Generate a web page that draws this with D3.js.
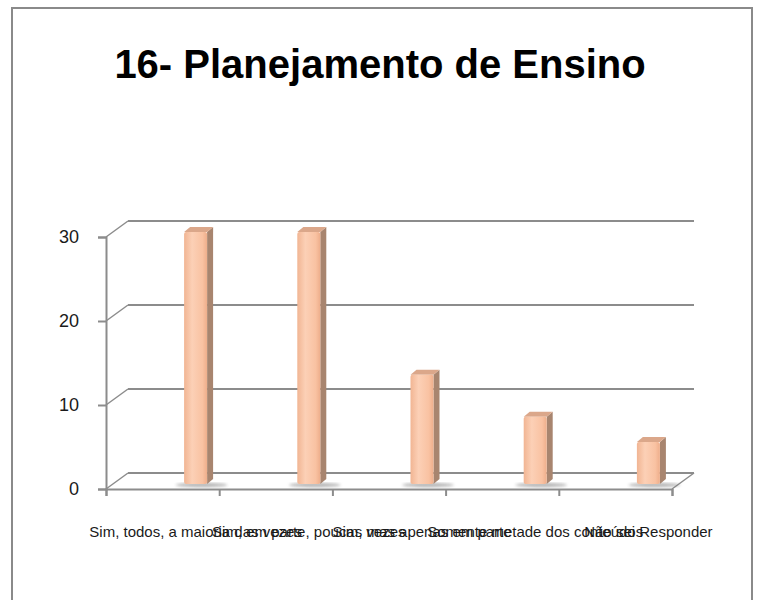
<!DOCTYPE html>
<html>
<head>
<meta charset="utf-8">
<script src="https://cdnjs.cloudflare.com/ajax/libs/d3/7.8.5/d3.min.js"></script>
<style>
  body { margin: 0; background: #fff; }
  svg { display: block; }
</style>
</head>
<body>
<div id="chart-area"></div>
<script>

// Data

let categories = [
  "Sim, todos, a maioria das vezes",
  "Sim, em parte, poucas vezes",
  "Sim, mas apenas em parte",
  "Somente metade dos conteúdos",
  "Não sei Responder"
];
let values = [30, 30, 13, 8, 5];
let yTicks = [0, 10, 20, 30];
let chartTitle = "16- Planejamento de Ensino";

// SVG drawing area

let width = 759, height = 600;

let svg = d3.select("#chart-area").append("svg")
    .attr("width", width)
    .attr("height", height);

// depth of the fake 3d box
let depthX = 22, depthY = -16;

// Scales

let y = d3.scaleLinear()
    .domain([0, 30])
    .range([489, 237]);

// category ticks on the front edge
let xi = d3.scaleLinear()
    .domain([0, categories.length])
    .range([106, 672]);

// bars sit further back, so they are shifted right
let x = d3.scaleBand()
    .domain(categories)
    .range([106 + 33, 672 + 33]);

let barW = 23, sideW = 6, capH = 5, barLift = 5;

// filters / gradients
let defs = svg.append("defs");

let grad = defs.append("linearGradient")
    .attr("id", "front")
    .attr("x1", "0%").attr("x2", "100%");
grad.append("stop").attr("offset", "0%").attr("stop-color", "#f1b593");
grad.append("stop").attr("offset", "35%").attr("stop-color", "#fcd0b6");
grad.append("stop").attr("offset", "80%").attr("stop-color", "#f9c2a2");
grad.append("stop").attr("offset", "100%").attr("stop-color", "#eeae8b");

defs.append("filter")
    .attr("id", "blur")
  .append("feGaussianBlur")
    .attr("stdDeviation", 1.6);

// Outer border

svg.append("rect")
    .attr("x", 12)
    .attr("y", 8)
    .attr("width", 740)
    .attr("height", 640)
    .attr("fill", "none")
    .attr("stroke", "#8a8a8a")
    .attr("stroke-width", 2);

// Title

svg.append("text")
    .attr("x", 380)
    .attr("y", 78)
    .attr("text-anchor", "middle")
    .style("font-family", "'Liberation Sans', Arial, sans-serif")
    .style("font-weight", "bold")
    .style("font-size", "40px")
    .attr("fill", "#000")
    .text(chartTitle);

// Back wall gridlines + side wall diagonals

let grid = svg.append("g").attr("class", "grid");

grid.selectAll(".gline")
    .data(yTicks)
  .enter().append("line")
    .attr("class", "gline")
    .attr("x1", xi(0) + depthX)
    .attr("x2", xi(categories.length) + depthX)
    .attr("y1", d => y(d) + depthY)
    .attr("y2", d => y(d) + depthY)
    .attr("stroke", "#8c8c8c")
    .attr("stroke-width", 2);

grid.selectAll(".diag")
    .data(yTicks)
  .enter().append("line")
    .attr("class", "diag")
    .attr("x1", xi(0))
    .attr("x2", xi(0) + depthX)
    .attr("y1", d => y(d))
    .attr("y2", d => y(d) + depthY)
    .attr("stroke", "#8c8c8c")
    .attr("stroke-width", 1.5);

// floor right edge
grid.append("line")
    .attr("x1", xi(categories.length))
    .attr("x2", xi(categories.length) + depthX)
    .attr("y1", y(0))
    .attr("y2", y(0) + depthY)
    .attr("stroke", "#8c8c8c")
    .attr("stroke-width", 1.5);

// Bars

let bars = svg.selectAll(".bar")
    .data(values.map((v, i) => ({cat: categories[i], value: v})))
  .enter().append("g")
    .attr("class", "bar");

function bx(d) { return x(d.cat) + x.bandwidth() / 2 - barW / 2; }
function by(v) { return y(v) - barLift; }

// floor shadow
bars.append("ellipse")
    .attr("cx", d => bx(d) + barW / 2 + 6)
    .attr("cy", y(0) - barLift + 1)
    .attr("rx", 26)
    .attr("ry", 2.2)
    .attr("fill", "#7a7a7a")
    .attr("opacity", 0.55)
    .attr("filter", "url(#blur)");

// side face
bars.append("path")
    .attr("fill", "#a8856f")
    .attr("d", d => {
      let x0 = bx(d) + barW, yt = by(d.value), yb = by(0);
      return "M" + x0 + "," + yb +
        "L" + x0 + "," + yt +
        "L" + (x0 + sideW) + "," + (yt - capH) +
        "L" + (x0 + sideW) + "," + (yb - capH) + "Z";
    });

// top face
bars.append("path")
    .attr("fill", "#dba78a")
    .attr("d", d => {
      let x0 = bx(d), yt = by(d.value);
      return "M" + x0 + "," + yt +
        "L" + (x0 + sideW) + "," + (yt - capH) +
        "L" + (x0 + barW + sideW) + "," + (yt - capH) +
        "L" + (x0 + barW) + "," + yt + "Z";
    });

// front face
bars.append("rect")
    .attr("x", d => bx(d))
    .attr("y", d => by(d.value))
    .attr("width", barW)
    .attr("height", d => by(0) - by(d.value))
    .attr("rx", 2)
    .attr("fill", "url(#front)");

// Axes

let yAxis = d3.axisLeft(y)
    .tickValues(yTicks)
    .tickSize(8)
    .tickPadding(19)
    .tickFormat(d3.format("d"));

let yAxisG = svg.append("g")
    .attr("class", "y-axis axis")
    .attr("transform", "translate(" + xi(0) + ",0)")
    .call(yAxis);

let xTickAxis = d3.axisBottom(xi)
    .ticks(categories.length)
    .tickSize(7)
    .tickFormat("");

let xAxisG = svg.append("g")
    .attr("class", "x-axis axis")
    .attr("transform", "translate(0," + y(0) + ")")
    .call(xTickAxis);

let xLabelAxis = d3.axisBottom(x)
    .tickSize(0)
    .tickPadding(37);

let xLabelG = svg.append("g")
    .attr("class", "x-labels")
    .attr("transform", "translate(0," + y(0) + ")")
    .call(xLabelAxis);
xLabelG.select(".domain").remove();

svg.selectAll(".axis .domain, .axis .tick line")
    .attr("stroke", "#8c8c8c")
    .attr("stroke-width", 2);

svg.selectAll(".y-axis text")
    .style("font-family", "'Liberation Sans', Arial, sans-serif")
    .style("font-size", "18px")
    .attr("fill", "#1a1a1a");

svg.selectAll(".x-labels text")
    .style("font-family", "'Liberation Sans', Arial, sans-serif")
    .style("font-size", "15px")
    .attr("fill", "#1a1a1a");

</script>
</body>
</html>
